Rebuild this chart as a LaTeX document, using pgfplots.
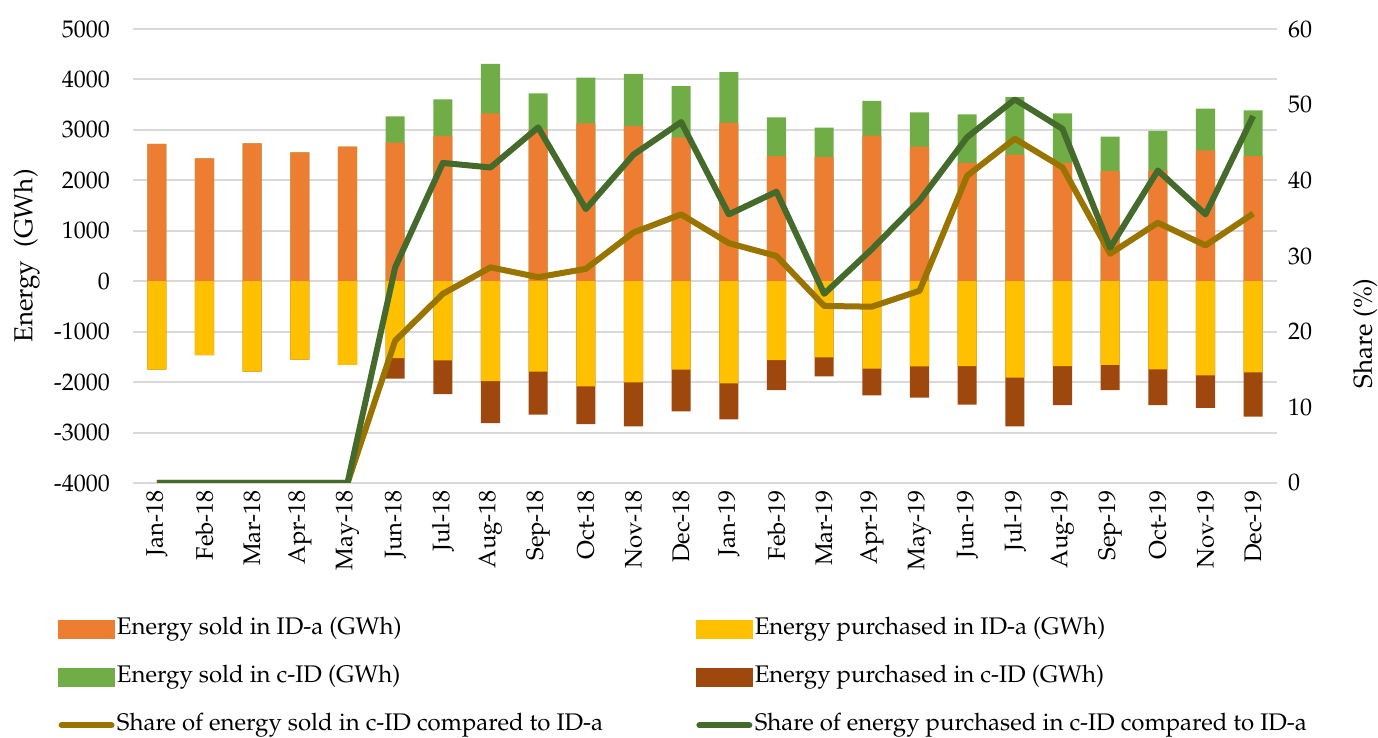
\documentclass[border=0pt]{standalone}
\usepackage[T1]{fontenc}
\usepackage{mathpazo}
\usepackage{pgfplots}
\usepackage{pgfplotstable}
\pgfplotsset{compat=1.18}

\definecolor{soldA}{HTML}{ED7D31}
\definecolor{buyA}{HTML}{FFC000}
\definecolor{soldC}{HTML}{70AD47}
\definecolor{buyC}{HTML}{9E480E}
\definecolor{shareS}{HTML}{9A7400}
\definecolor{shareP}{HTML}{446A2C}
\definecolor{gridc}{HTML}{D9D9D9}

% soldTot = ID-a + c-ID sold, buyTot = ID-a + c-ID purchased (GWh); shares in %
\pgfplotstableread{
x soldA soldTot buyA buyTot shareS shareP
0  2721 2721 -1753 -1753 0    0
1  2437 2437 -1463 -1463 0    0
2  2734 2734 -1793 -1793 0    0
3  2556 2556 -1555 -1555 0    0
4  2668 2668 -1660 -1660 0    0
5  2747 3269 -1522 -1932 18.8 28.5
6  2880 3606 -1569 -2236 25.0 42.3
7  3330 4308 -1979 -2812 28.5 41.7
8  3000 3726 -1793 -2646 27.2 47.0
9  3130 4036 -2085 -2832 28.3 36.2
10 3077 4109 -2006 -2878 33.1 43.4
11 2852 3870 -1753 -2579 35.5 47.7
12 3137 4147 -2026 -2740 31.7 35.5
13 2482 3249 -1563 -2158 30.0 38.5
14 2462 3044 -1510 -1886 23.4 25.0
15 2885 3573 -1734 -2263 23.3 30.9
16 2668 3348 -1688 -2310 25.4 37.3
17 2344 3308 -1681 -2448 40.6 45.7
18 2509 3652 -1913 -2878 45.5 50.7
19 2344 3328 -1681 -2454 41.7 46.8
20 2185 2866 -1660 -2158 30.3 31.1
21 2200 2979 -1746 -2454 34.4 41.3
22 2594 3420 -1865 -2513 31.4 35.5
23 2482 3387 -1806 -2685 35.6 48.5
}\energy

\newcommand{\lt}[1]{\makebox[288.5pt][l]{#1}}

\begin{document}
\begin{tikzpicture}
\useasboundingbox (-66.5pt,-127.5pt) rectangle (622.5pt,241.5pt);
\pgfplotsset{
  base/.style={
    scale only axis, width=572pt, height=227pt,
    xmin=-0.5, xmax=23.5,
    axis line style={draw=none},
    major tick length=0pt,
    tick label style={font=\fontsize{12}{14}\selectfont},
  },
}
\begin{axis}[
  base,
  ymin=-4000, ymax=5000,
  ytick={-4000,-3000,...,5000},
  yticklabels={-4000,-3000,-2000,-1000,0,1000,2000,3000,4000,5000},
  ymajorgrids,
  grid style={gridc, line width=1pt},
  yticklabel style={xshift=-8pt},
  xtick={0,...,23},
  xticklabels={Jan-18,Feb-18,Mar-18,Apr-18,May-18,Jun-18,Jul-18,Aug-18,Sep-18,Oct-18,Nov-18,Dec-18,
    Jan-19,Feb-19,Mar-19,Apr-19,May-19,Jun-19,Jul-19,Aug-19,Sep-19,Oct-19,Nov-19,Dec-19},
  xticklabel style={rotate=90, anchor=east},
  ylabel={Energy\ \ (GWh)},
  every axis y label/.style={at={(axis description cs:-0.093,0.5)}, rotate=90, anchor=center,
    font=\fontsize{13}{15}\selectfont},
  legend columns=2,
  legend style={at={(axis description cs:-0.071,-0.287)}, anchor=north west,
    draw=none, fill=none, font=\fontsize{12}{14}\selectfont, row sep=12.5pt,
    nodes={inner xsep=1pt, inner ysep=0pt, text height=8.5pt, text depth=3pt}},
]
\addplot[ybar, bar shift=0pt, bar width=0.4, fill=soldC, draw=none, forget plot] table[x=x, y=soldTot] {\energy};
\addplot[ybar, bar shift=0pt, bar width=0.4, fill=soldA, draw=none, forget plot] table[x=x, y=soldA] {\energy};
\addplot[ybar, bar shift=0pt, bar width=0.4, fill=buyC, draw=none, forget plot] table[x=x, y=buyTot] {\energy};
\addplot[ybar, bar shift=0pt, bar width=0.4, fill=buyA, draw=none, forget plot] table[x=x, y=buyA] {\energy};

\addlegendimage{legend image code/.code={\fill[soldA] (0pt,-4.5pt) rectangle (28pt,4.5pt);}}
\addlegendentry{\lt{Energy sold in ID-a (GWh)}}
\addlegendimage{legend image code/.code={\fill[buyA] (0pt,-4.5pt) rectangle (28pt,4.5pt);}}
\addlegendentry{\lt{Energy purchased in ID-a (GWh)}}
\addlegendimage{legend image code/.code={\fill[soldC] (0pt,-4.5pt) rectangle (28pt,4.5pt);}}
\addlegendentry{\lt{Energy sold in c-ID (GWh)}}
\addlegendimage{legend image code/.code={\fill[buyC] (0pt,-4.5pt) rectangle (28pt,4.5pt);}}
\addlegendentry{\lt{Energy purchased in c-ID (GWh)}}
\addlegendimage{legend image code/.code={\draw[shareS, line width=3pt, line cap=round] (1.5pt,0pt) -- (26.5pt,0pt);}}
\addlegendentry{\lt{Share of energy sold in c-ID compared to ID-a}}
\addlegendimage{legend image code/.code={\draw[shareP, line width=3pt, line cap=round] (1.5pt,0pt) -- (26.5pt,0pt);}}
\addlegendentry{\lt{Share of energy purchased in c-ID compared to ID-a}}
\end{axis}

\begin{axis}[
  base,
  ymin=0, ymax=60,
  ytick={0,10,...,60},
  axis y line*=right,
  axis x line=none,
  yticklabel style={xshift=2pt},
  ylabel={Share (\%)},
  every axis y label/.style={at={(axis description cs:1.077,0.33)}, rotate=90, anchor=center,
    font=\fontsize{13}{15}\selectfont},
]
\addplot[shareS, line width=3pt, line join=round] table[x=x, y=shareS] {\energy};
\addplot[shareP, line width=3pt, line join=round] table[x=x, y=shareP] {\energy};
\end{axis}
\end{tikzpicture}
\end{document}
